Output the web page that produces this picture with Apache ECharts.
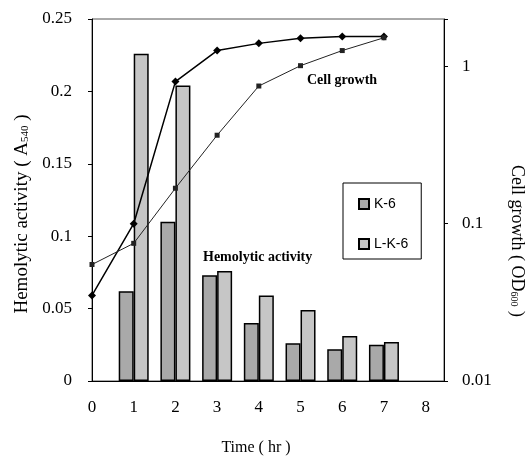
<!DOCTYPE html>
<html><head><meta charset="utf-8">
<script src="https://cdn.jsdelivr.net/npm/echarts@6/dist/echarts.min.js"></script>
<style>html,body{margin:0;padding:0;background:#fff}#c{width:527px;height:461px}</style>
</head><body><div id="c"></div>
<script>
const hours = [0,1,2,3,4,5,6,7];
const barHours = [1,2,3,4,5,6,7];
const k6Hemolytic = [0.062,0.110,0.073,0.040,0.026,0.022,0.025];
const lk6Hemolytic = [0.226,0.204,0.076,0.059,0.049,0.031,0.027];
const growthDiamond = [0.035,0.10,0.80,1.26,1.40,1.51,1.55,1.55];
const growthSquare = [0.055,0.075,0.168,0.365,0.75,1.01,1.26,1.52];
const leftTicks = [0,0.05,0.1,0.15,0.2,0.25];

const serif = '"Liberation Serif", "Times New Roman", serif';
const chart = echarts.init(document.getElementById('c'));
chart.setOption({
  animation:false,
  grid:{left:92,right:83,top:19,bottom:80,show:true,borderColor:'#555',borderWidth:1,
    containLabel:false,outerBoundsMode:'none'},
  legend:{
    orient:'vertical',left:343,top:183,
    data:[{name:'K-6',icon:'rect'},{name:'L-K-6',icon:'rect'}],
    borderColor:'#000',borderWidth:1,
    padding:[14,13,8,15],
    itemGap:26,itemWidth:10,itemHeight:10,
    textStyle:{fontFamily:'"Liberation Sans", Arial, sans-serif',fontSize:14,color:'#000'}
  },
  xAxis:{
    type:'value',min:0,max:8.44,interval:1,
    name:'Time ( hr )',nameLocation:'middle',nameGap:59,
    nameTextStyle:{fontFamily:serif,fontSize:16,color:'#000',padding:[0,24,0,0]},
    axisLine:{lineStyle:{color:'#000'}},
    axisTick:{show:false},
    splitLine:{show:false},
    axisLabel:{margin:18,fontFamily:serif,fontSize:17,color:'#000',
      formatter:v=>Number.isInteger(v)?String(v):''}
  },
  yAxis:[{
    type:'value',min:0,max:0.25,interval:0.05,
    name:'{n|Hemolytic activity ( A}{s|540}{n| )}',nameLocation:'middle',nameGap:55,
    nameTextStyle:{padding:[0,28,0,0],rich:{n:{fontFamily:serif,fontSize:19,color:'#000'},s:{fontFamily:serif,fontSize:11,color:'#000',padding:[7,0,0,0]}}},
    axisLine:{show:true,lineStyle:{color:'#000'}},
    axisTick:{show:true,length:4,lineStyle:{color:'#000'}},
    splitLine:{show:false},
    axisLabel:{margin:20,fontFamily:serif,fontSize:17,color:'#000',
      formatter:v=>leftTicks.some(t=>Math.abs(t-v)<1e-9)?String(+v.toFixed(2)):''}
  },{
    type:'log',logBase:10,min:0.01,max:2,position:'right',
    name:'{n|Cell growth ( OD}{s|600}{n| )}',nameLocation:'middle',nameGap:64,nameRotate:-90,
    nameTextStyle:{padding:[0,0,0,82],rich:{n:{fontFamily:serif,fontSize:18,color:'#000'},s:{fontFamily:serif,fontSize:10,color:'#000',padding:[7,0,0,0]}}},
    axisLine:{show:true,lineStyle:{color:'#000'}},
    axisTick:{show:true,length:4,lineStyle:{color:'#000'}},
    splitLine:{show:false},
    axisLabel:{margin:18,fontFamily:serif,fontSize:17,color:'#000',
      formatter:v=>{const l=Math.log10(v);return Math.abs(l-Math.round(l))<1e-6?String(+v.toPrecision(1)):'';}}
  }],
  series:[
    {name:'K-6',type:'bar',barWidth:15,barGap:'0%',
      data:barHours.map((h,i)=>[h,k6Hemolytic[i]]),
      itemStyle:{color:'#a9a9a9',borderColor:'#000',borderWidth:1.5}},
    {name:'L-K-6',type:'bar',barWidth:15,barGap:'0%',
      data:barHours.map((h,i)=>[h,lk6Hemolytic[i]]),
      itemStyle:{color:'#c6c6c6',borderColor:'#000',borderWidth:1.5}},
    {name:'diamond',type:'line',yAxisIndex:1,
      data:hours.map((h,i)=>[h,growthDiamond[i]]),
      symbol:'diamond',symbolSize:8,
      lineStyle:{color:'#000',width:1.5},itemStyle:{color:'#000'}},
    {name:'square',type:'line',yAxisIndex:1,
      data:hours.map((h,i)=>[h,growthSquare[i]]),
      symbol:'rect',symbolSize:5,
      lineStyle:{color:'#222',width:1},itemStyle:{color:'#222'}}
  ],
  graphic:[
    {type:'text',left:307,top:73,style:{text:'Cell growth',font:'bold 14px '+serif,fill:'#000'}},
    {type:'text',left:203,top:250,style:{text:'Hemolytic activity',font:'bold 14px '+serif,fill:'#000'}}
  ]
});
</script></body></html>
